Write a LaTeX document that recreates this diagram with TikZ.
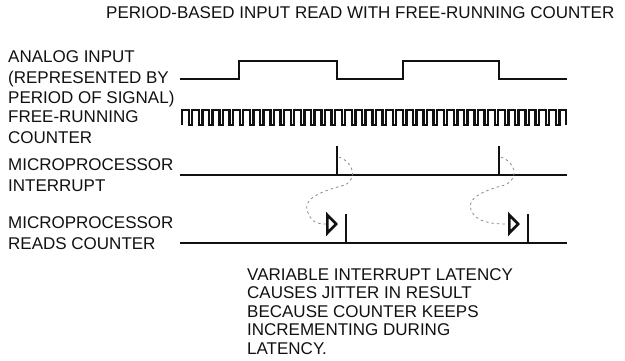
\documentclass[tikz,border=0pt]{standalone}
\usepackage{fontspec}
\setmainfont{Liberation Sans}
\usetikzlibrary{arrows.meta,positioning}
\definecolor{tdInk}{HTML}{111111}
\definecolor{tdDash}{HTML}{8A8A8A}
\tikzset{
  lbl/.style={font=\fontsize{17}{20.5}\selectfont, align=left, inner sep=0pt, anchor=west, text=tdInk},
  sigline/.style={line width=2.3pt, draw=tdInk},
  spike/.style={line width=2.3pt, draw=tdInk},
  latency/.style={draw=tdDash, line width=0.8pt, dash pattern=on 2.5pt off 3pt,
    -{Triangle[open, length=12pt, width=24pt, line width=2.6pt, color=tdInk]}}
}
\begin{document}
\begin{tikzpicture}[x=1pt, y=-1pt]
  \useasboundingbox (0,0) rectangle (625,360);
  % title and row labels
  \node[lbl] (title) at (106,13) {PERIOD-BASED INPUT READ WITH FREE-RUNNING COUNTER};
  \node[lbl] (lblin) at (8,79) {ANALOG INPUT\\(REPRESENTED BY\\PERIOD OF SIGNAL)};
  \node[lbl] (lblctr) at (8,127) {FREE-RUNNING\\COUNTER};
  \node[lbl] (lblirq) at (8,175) {MICROPROCESSOR\\INTERRUPT};
  \node[lbl] (lblrd) at (8,233) {MICROPROCESSOR\\READS COUNTER};
  \node[lbl, anchor=north west, font=\fontsize{17}{18.5}\selectfont] (note) at (247,268)
    {VARIABLE INTERRUPT LATENCY\\CAUSES JITTER IN RESULT\\BECAUSE COUNTER KEEPS\\INCREMENTING DURING\\LATENCY.};

  % analog input
  \draw[sigline] (180,79) -- (239,79) -- (239,61) -- (337,61) -- (337,79)
    -- (403,79) -- (403,61) -- (499,61) -- (499,79) -- (567,79);

  % free-running counter
  \draw[sigline] (182,125) foreach \i in {1,...,37}{ -- ++(0,-15) -- ++(6.8,0) -- ++(0,15) -- ++(3.4,0) }
    -- ++(0,-15) -- ++(6.8,0) -- ++(0,15);

  % interrupt line
  \draw[sigline] (180,175) -- (567,175);
  \draw[spike] (337,146) -- (337,175);
  \draw[spike] (499,146) -- (499,175);
  \coordinate (irqA) at (339,157);
  \coordinate (irqB) at (501,157);

  % read line
  \draw[sigline] (180,243) -- (567,243);
  \draw[spike] (346,214) -- (346,243);
  \draw[spike] (528,214) -- (528,243);
  \coordinate (rdA) at (338,224);
  \coordinate (rdB) at (520,224);

  % latency
  \draw[latency] (irqA) .. controls (353,162) and (358,178) .. (345,185)
    .. controls (325,190) and (303,198) .. (307,210)
    .. controls (311,222) and (316,224) .. (rdA);
  \draw[latency] (irqB) .. controls (515,162) and (520,178) .. (505,185)
    .. controls (485,190) and (466,198) .. (471,210)
    .. controls (476,222) and (490,224) .. (rdB);
\end{tikzpicture}
\end{document}
